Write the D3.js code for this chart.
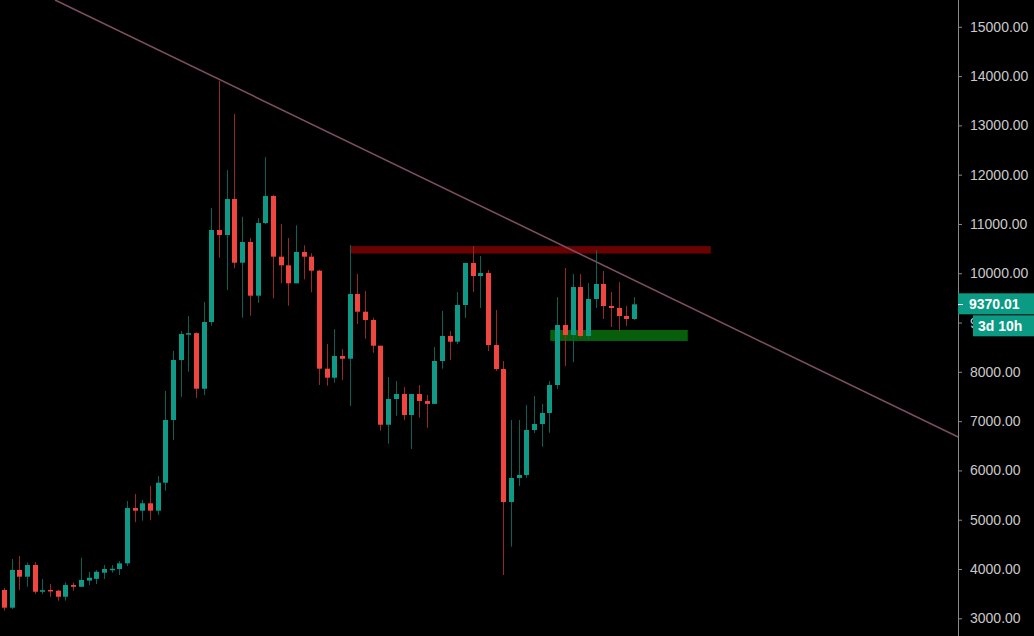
<!DOCTYPE html>
<html><head><meta charset="utf-8">
<script src="https://cdn.jsdelivr.net/npm/d3@7/dist/d3.min.js"></script>
<style>
html,body{margin:0;padding:0;background:#000;overflow:hidden;}
svg{display:block;}
</style></head><body>
<script>
// Weekly candles (index order)
const opens  = [3574,3215,3980,3844,4081,3539,3575,3560,3437,3675,3640,3765,3800,3925,3995,4000,4115,5237,5183,5333,5183,5751,7023,8240,8767,8785,7658,9011,10877,10776,11506,10214,10634,9545,11019,11567,10336,10161,9796,10431,10336,10052,8064,7881,8321,8266,9579,9220,9052,8530,6927,7449,7550,7124,7550,7408,7350,8220,8727,8611,9356,10208,9944,10005,8544,8057,5359,5846,5907,6820,6942,7165,7733,8950,8747,9721,8727,9478,9782,9336,9295,9133,9072];
const highs  = [3620,4203,4263,4128,4140,3797,3695,3580,3730,3722,4229,3940,3980,4081,4081,4162,5379,5521,5400,5684,5887,7611,8423,8828,9133,8800,9417,11324,13900,12095,13231,11147,10715,11121,12358,11590,11000,10715,10973,10567,10405,10070,8565,8869,8463,10573,9985,9640,9100,8530,7895,7814,7690,7550,7733,7530,8504,9234,8828,9620,10208,10553,10350,10066,9254,8220,7023,7023,7327,7510,7347,7814,9518,10107,9985,9985,9802,10472,10046,9620,9822,9336,9518];
const lows   = [3154,3188,3574,3641,3493,3493,3437,3357,3357,3560,3640,3675,3695,3797,3925,3878,4060,4950,4980,4990,5095,5588,6617,7495,8003,7469,7530,8936,10315,9660,10100,9098,9139,9396,11000,9492,9796,9342,9796,9877,9614,7733,7719,7780,7834,7307,8970,8672,8388,6806,6542,7110,7020,6434,7069,6866,7350,8064,8240,8565,9092,9620,9295,8423,8017,3878,4452,5684,5846,6760,6481,6765,7652,8118,8199,8686,8645,9295,9072,8909,8828,8930,9050];
const closes = [3215,3980,3844,4081,3539,3570,3560,3437,3675,3640,3777,3823,3945,4000,4005,4115,5237,5183,5333,5183,5751,7023,8240,8767,8785,7658,9011,10877,10776,11506,10214,10634,9545,11019,11567,10336,10161,9796,10431,10336,10052,8064,7881,8321,8266,9579,9220,9052,8530,6927,7449,7550,7124,7550,7408,7350,8220,8727,8611,9356,10208,9944,10005,8544,8057,5359,5846,5907,6820,6942,7165,7733,8950,8747,9721,8727,9478,9782,9336,9295,9133,9072,9370];
const priceTicks = [3000,4000,5000,6000,7000,8000,9000,10000,11000,12000,13000,14000,15000];
const lastPrice = 9370.01;
const countdown = "3d 10h";
// drawings: resistance zone, support zone, trend line (index, price)
const resistanceZone = {i0: 45.0, i1: 92.0, p0: 10400, p1: 10550};
const supportZone = {i0: 71.1, i1: 89.0, p0: 8626, p1: 8849};
const trendLine = [[6.64, 15544], [124.2, 6678]];

const W = 1034, H = 636, axisX = 958;
const svg = d3.select("body").append("svg").attr("width", W).attr("height", H);
svg.append("rect").attr("width", W).attr("height", H).attr("fill", "#000");

const x = d3.scaleLinear().domain([0, 82]).range([4, 634]);
const y = d3.scaleLinear().domain([3000, 15000]).range([618.3, 26.8]);

svg.append("clipPath").attr("id", "plot").append("rect").attr("x", 0).attr("y", 0).attr("width", axisX).attr("height", H);
const plot = svg.append("g").attr("clip-path", "url(#plot)");

// zones
plot.append("rect")
  .attr("x", x(resistanceZone.i0)).attr("width", x(resistanceZone.i1) - x(resistanceZone.i0))
  .attr("y", y(resistanceZone.p1)).attr("height", y(resistanceZone.p0) - y(resistanceZone.p1))
  .attr("fill", "#6a0202");
plot.append("rect")
  .attr("x", x(supportZone.i0)).attr("width", x(supportZone.i1) - x(supportZone.i0))
  .attr("y", y(supportZone.p1)).attr("height", y(supportZone.p0) - y(supportZone.p1))
  .attr("fill", "#075e0b");

const data = opens.map((o, i) => ({i, o, h: highs[i], l: lows[i], c: closes[i]}));
const up = d => d.c >= d.o;
const bodyW = 5;

const g = plot.append("g");
g.selectAll("line.wick").data(data).join("line")
  .attr("class", "wick")
  .attr("x1", d => Math.round(x(d.i)) + 0.5).attr("x2", d => Math.round(x(d.i)) + 0.5)
  .attr("y1", d => y(d.h)).attr("y2", d => y(d.l))
  .attr("stroke", d => up(d) ? "#0c6157" : "#932a28").attr("stroke-width", 1);
g.selectAll("rect.body").data(data).join("rect")
  .attr("class", "body")
  .attr("x", d => Math.round(x(d.i)) + 0.5 - bodyW / 2)
  .attr("width", bodyW)
  .attr("y", d => y(Math.max(d.o, d.c)))
  .attr("height", d => Math.max(1.5, Math.abs(y(d.o) - y(d.c))))
  .attr("fill", d => up(d) ? "#0e9a86" : "#f0463f");

// trend line
plot.append("line")
  .attr("x1", x(trendLine[0][0])).attr("y1", y(trendLine[0][1]))
  .attr("x2", x(trendLine[1][0])).attr("y2", y(trendLine[1][1]))
  .attr("stroke", "#7b4d62").attr("stroke-width", 1.6);

// price axis
const axis = d3.axisRight(y).tickValues(priceTicks).tickFormat(d3.format(".2f")).tickSize(4).tickPadding(8);
const ag = svg.append("g").attr("transform", `translate(${axisX},0)`).call(axis);
ag.select(".domain").remove();
ag.append("line").attr("x1", 0.5).attr("x2", 0.5).attr("y1", 0).attr("y2", H).attr("stroke", "#8a8a8a");
ag.selectAll(".tick line").attr("stroke", "#8a8a8a");
ag.selectAll(".tick text").attr("fill", "#c9c9c9")
  .style("font-family", "'Liberation Sans', Arial, sans-serif").style("font-size", "14px");

// last price label
const ly = y(lastPrice);
svg.append("rect").attr("x", axisX).attr("y", ly - 11).attr("width", W - axisX).attr("height", 21).attr("fill", "#0b9a83");
svg.append("line").attr("x1", axisX).attr("x2", axisX + 5).attr("y1", Math.round(ly) + 0.5).attr("y2", Math.round(ly) + 0.5).attr("stroke", "#fff");
svg.append("text").attr("x", 969).attr("y", ly).attr("dy", "0.35em").text(d3.format(".2f")(lastPrice))
  .attr("fill", "#fff").style("font-family", "'Liberation Sans', Arial, sans-serif").style("font-size", "14px").style("font-weight", "bold");
svg.append("rect").attr("x", 973).attr("y", ly + 11).attr("width", W - 973).attr("height", 21).attr("fill", "#0b9a83");
svg.append("text").attr("x", 978).attr("y", ly + 21.5).attr("dy", "0.35em").text(countdown)
  .attr("fill", "#fff").style("font-family", "'Liberation Sans', Arial, sans-serif").style("font-size", "14px").style("font-weight", "bold");
</script>
</body></html>
